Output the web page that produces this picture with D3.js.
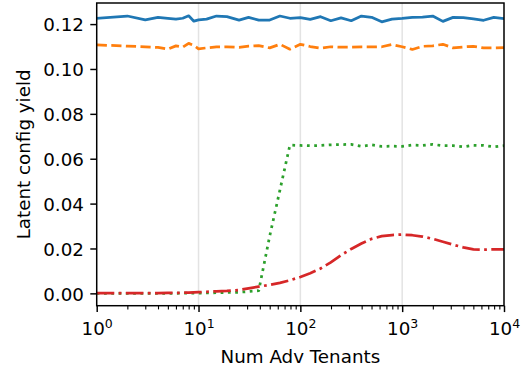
<!DOCTYPE html>
<html>
<head>
<meta charset="utf-8">
<script src="https://cdn.jsdelivr.net/npm/d3@7"></script>
<style>
  html, body { margin: 0; padding: 0; background: #fff; }
  svg { display: block; font-family: "DejaVu Sans", sans-serif; }
</style>
</head>
<body>
<svg id="chart" width="528" height="372"></svg>
<script>
// Number of adversarial tenants (x, log scale)
const tenants = [1, 2, 3, 4, 5, 6, 7, 8, 9, 10, 12, 15, 19, 25, 31, 39, 50, 63, 79, 100,
  125, 158, 199, 251, 316, 398, 501, 630, 794, 1000, 1258, 1584, 1995, 2511, 3162, 3981,
  5011, 6309, 7943, 10000];

// Latent config yield per series
const seriesBlue = [0.1226, 0.1236, 0.1219, 0.1230, 0.1226, 0.1222, 0.1226, 0.1237, 0.1213, 0.1219,
  0.1222, 0.1236, 0.1233, 0.1218, 0.1230, 0.1218, 0.1218, 0.1236, 0.1226, 0.1229,
  0.1221, 0.1233, 0.1215, 0.1228, 0.1215, 0.1236, 0.1230, 0.1210, 0.1222, 0.1225,
  0.1230, 0.1231, 0.1236, 0.1212, 0.1230, 0.1229, 0.1223, 0.1217, 0.1230, 0.1224];
const seriesOrange = [0.1107, 0.1102, 0.1099, 0.1096, 0.1088, 0.1103, 0.1097, 0.1114, 0.1105, 0.1090,
  0.1094, 0.1098, 0.1099, 0.1096, 0.1102, 0.1104, 0.1094, 0.1110, 0.1088, 0.1110,
  0.1100, 0.1093, 0.1099, 0.1097, 0.1097, 0.1098, 0.1098, 0.1099, 0.1109, 0.1099,
  0.1087, 0.1101, 0.1103, 0.1110, 0.1094, 0.1098, 0.1101, 0.1094, 0.1094, 0.1095];
const seriesGreen = [0.0000, 0.0000, 0.0000, 0.0000, 0.0000, 0.0000, 0.0001, 0.0001, 0.0001, 0.0001,
  0.0002, 0.0003, 0.0004, 0.0005, 0.0008, 0.0012, 0.0255, 0.0460, 0.0661, 0.0659,
  0.0658, 0.0659, 0.0662, 0.0663, 0.0664, 0.0655, 0.0662, 0.0655, 0.0656, 0.0655,
  0.0661, 0.0659, 0.0664, 0.0658, 0.0658, 0.0653, 0.0660, 0.0659, 0.0653, 0.0658];
const seriesRed = [0.0001, 0.0001, 0.0001, 0.0001, 0.0002, 0.0002, 0.0003, 0.0003, 0.0004, 0.0005,
  0.0007, 0.0009, 0.0011, 0.0015, 0.0022, 0.0030, 0.0038, 0.0047, 0.0058, 0.0073,
  0.0090, 0.0111, 0.0138, 0.0170, 0.0198, 0.0222, 0.0243, 0.0255, 0.0260, 0.0262,
  0.0259, 0.0253, 0.0243, 0.0230, 0.0217, 0.0205, 0.0196, 0.0195, 0.0196, 0.0196];

// Axis ticks
const xMajorTicks = [1, 10, 100, 1000, 10000];
const xTickExponents = ["0", "1", "2", "3", "4"];
const yTicks = [0.00, 0.02, 0.04, 0.06, 0.08, 0.10, 0.12];

const svg = d3.select("#chart");
const L = 96.7, R = 504, T = 3, B = 305.7;
const fs = 18.3;

const x = d3.scaleLog().domain([1, 10000]).range([L, R]);
const y = d3.scaleLinear().domain([-0.0055, 0.1294]).range([B, T]);

// Vertical grid at decades
svg.append("g")
  .selectAll("line")
  .data(xMajorTicks)
  .join("line")
  .attr("x1", d => x(d)).attr("x2", d => x(d))
  .attr("y1", T).attr("y2", B)
  .attr("stroke", "#b0b0b0").attr("stroke-opacity", 0.35).attr("stroke-width", 1.5);

// Series lines
svg.append("clipPath").attr("id", "plotclip")
  .append("rect").attr("x", L).attr("y", T).attr("width", R - L).attr("height", B - T);

const line = d3.line().x(d => x(d[0])).y(d => y(d[1]));
const series = [
  { values: seriesBlue, color: "#1f77b4", dash: null, cap: "square" },
  { values: seriesOrange, color: "#ff7f0e", dash: "10.2,4.4", cap: "butt" },
  { values: seriesGreen, color: "#2ca02c", dash: "2.75,4.54", cap: "butt" },
  { values: seriesRed, color: "#d62728", dash: "17.6,4.4,2.75,4.4", cap: "butt" }
];
const plot = svg.append("g").attr("clip-path", "url(#plotclip)");
series.forEach(s => {
  plot.append("path")
    .datum(tenants.map((t, i) => [t, s.values[i]]))
    .attr("d", line)
    .attr("fill", "none")
    .attr("stroke", s.color)
    .attr("stroke-width", 2.75)
    .attr("stroke-linejoin", "round")
    .attr("stroke-linecap", s.cap)
    .attr("stroke-dasharray", s.dash);
});

// Y axis
const yAxis = svg.append("g")
  .attr("transform", `translate(${L},0)`)
  .call(d3.axisLeft(y).tickValues(yTicks).tickFormat(d3.format(".2f"))
    .tickSize(6.4).tickPadding(6.4).tickSizeOuter(0));
yAxis.select(".domain").remove();
yAxis.selectAll(".tick line").attr("stroke", "#000").attr("stroke-width", 1.47);
yAxis.selectAll(".tick text")
  .attr("font-size", fs).attr("font-family", "DejaVu Sans").attr("fill", "#000")
  .attr("dy", null).attr("y", fs * 0.3645);

// X axis: minor ticks
const minorTicks = [];
for (let e = 0; e < 4; e++) for (let m = 2; m <= 9; m++) minorTicks.push(m * Math.pow(10, e));
const xMinor = svg.append("g")
  .attr("transform", `translate(0,${B})`)
  .call(d3.axisBottom(x).tickValues(minorTicks).tickFormat("").tickSize(3.7).tickSizeOuter(0));
xMinor.select(".domain").remove();
xMinor.selectAll(".tick line").attr("stroke", "#000").attr("stroke-width", 1.1);

// X axis: major ticks with power-of-ten labels
const xMajor = svg.append("g")
  .attr("transform", `translate(0,${B})`)
  .call(d3.axisBottom(x).tickValues(xMajorTicks).tickFormat("").tickSize(6.4).tickSizeOuter(0));
xMajor.select(".domain").remove();
xMajor.selectAll(".tick line").attr("stroke", "#000").attr("stroke-width", 1.47);
xMajor.selectAll(".tick text").remove();
xMajor.selectAll(".tick").each(function (d, i) {
  const t = d3.select(this).append("text")
    .attr("y", 29.5)
    .attr("text-anchor", "middle")
    .attr("font-size", fs)
    .attr("font-family", "DejaVu Sans")
    .attr("fill", "#000");
  t.append("tspan").text("10");
  t.append("tspan").attr("dy", -7).attr("font-size", 12.5).text(xTickExponents[i]);
});

// Frame
svg.append("rect")
  .attr("x", L).attr("y", T).attr("width", R - L).attr("height", B - T)
  .attr("fill", "none").attr("stroke", "#000").attr("stroke-width", 1.47);

// Axis titles
svg.append("text")
  .attr("x", (L + R) / 2).attr("y", 363.3)
  .attr("text-anchor", "middle")
  .attr("font-size", fs).attr("fill", "#000")
  .text("Num Adv Tenants");
svg.append("text")
  .attr("transform", `translate(30,${(T + B) / 2}) rotate(-90)`)
  .attr("text-anchor", "middle")
  .attr("font-size", fs).attr("fill", "#000")
  .text("Latent config yield");
</script>
</body>
</html>
